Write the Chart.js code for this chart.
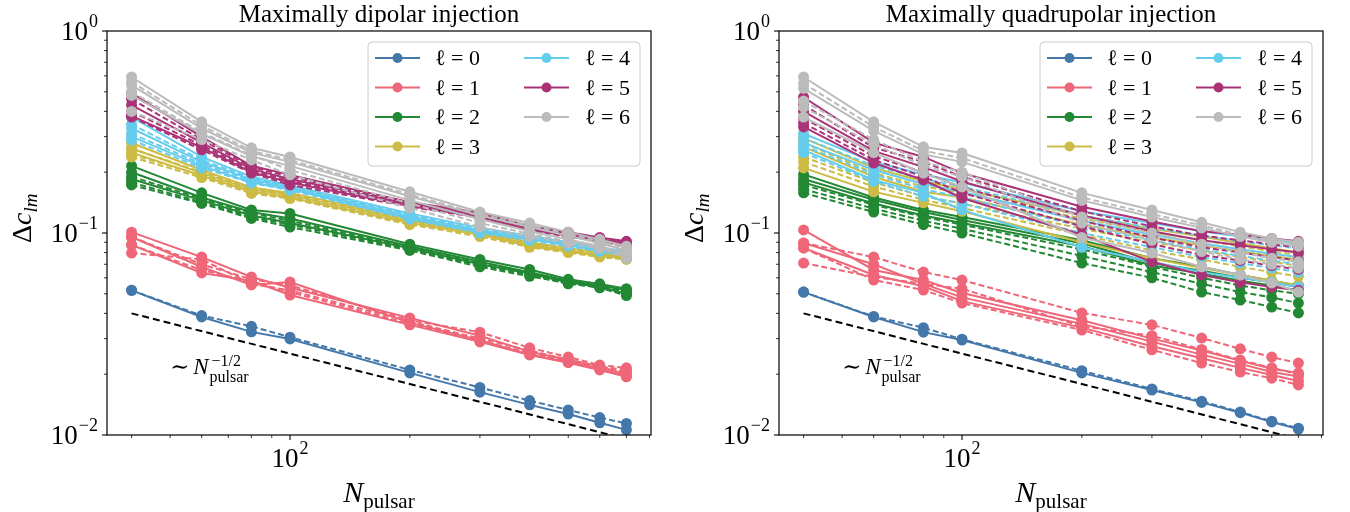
<!DOCTYPE html>
<html lang="en">
  <head>
    <meta charset="UTF-8" />
    <title>Delta c_lm vs N_pulsar</title>
    <script src="https://cdn.jsdelivr.net/npm/chart.js"></script>
    <style>
      body { margin: 0; background: #fff; }
      #wrap { position: relative; width: 1350px; height: 512px; }
      .panel { position: absolute; top: 0; width: 675px; height: 512px; }
    </style>
  </head>
  <body>
    <div id="wrap">
      <div class="panel" style="left: 0"><canvas id="dipolar" width="675" height="512"></canvas></div>
      <div class="panel" style="left: 675px"><canvas id="quadrupolar" width="675" height="512"></canvas></div>
    </div>

    <script>
      // x values shared by every curve
      const nPulsar = [40, 60, 80, 100, 200, 300, 400, 500, 600, 700];
      const ellColors = ["#4477AA", "#EE6677", "#228833", "#CCBB44", "#66CCEE", "#AA3377", "#BBBBBB"];
      const ellLabels = ["0", "1", "2", "3", "4", "5", "6"];

      // ~ N^-1/2 guide line (end points) and its label
      const guideN = [40, 700];
      const guideVals = [0.04, 0.00956];
      const guideLabelAt = [50, 0.02];

      // axis ticks
      const xTickVals = [40, 50, 60, 70, 80, 90, 100, 200, 300, 400, 500, 600, 700, 800];
      const xMajorTicks = [100];
      const xTickLabels = { 100: "2" };
      const yTickVals = [0.01, 0.02, 0.03, 0.04, 0.05, 0.06, 0.07, 0.08, 0.09,
        0.1, 0.2, 0.3, 0.4, 0.5, 0.6, 0.7, 0.8, 0.9, 1];
      const yMajorTicks = [0.01, 0.1, 1];
      const yTickLabels = { 0.01: "\u22122", 0.1: "\u22121", 1: "0" };

      // ---- maximally dipolar injection ----
      const dipSolid0 = [[0.052, 0.0384, 0.0324, 0.0299, 0.0203, 0.0163, 0.0141, 0.0127, 0.0115, 0.0106]];
      const dipDashed0 = [[0.052, 0.039, 0.0345, 0.0305, 0.021, 0.0172, 0.0148, 0.0133, 0.0122, 0.0114]];
      const dipSolid1 = [
        [0.101, 0.076, 0.0606, 0.0536, 0.038, 0.031, 0.0258, 0.0236, 0.0218, 0.02],
        [0.0955, 0.0679, 0.0553, 0.0572, 0.036, 0.0295, 0.025, 0.023, 0.0213, 0.0196],
        [0.0873, 0.0634, 0.058, 0.0493, 0.0351, 0.0289, 0.0249, 0.0228, 0.021, 0.0194],
      ];
      const dipDashed1 = [
        [0.0955, 0.07, 0.059, 0.055, 0.037, 0.0323, 0.027, 0.0243, 0.0222, 0.0215],
        [0.0796, 0.074, 0.056, 0.052, 0.0365, 0.03, 0.0262, 0.0236, 0.0218, 0.021],
        [0.0873, 0.0655, 0.0575, 0.051, 0.0355, 0.0292, 0.0255, 0.0232, 0.0214, 0.0205],
      ];
      const dipSolid2 = [
        [0.215, 0.158, 0.13, 0.125, 0.088, 0.074, 0.066, 0.059, 0.056, 0.053],
        [0.2, 0.15, 0.127, 0.118, 0.086, 0.072, 0.064, 0.058, 0.055, 0.052],
        [0.185, 0.145, 0.122, 0.112, 0.084, 0.07, 0.063, 0.057, 0.054, 0.05],
      ];
      const dipDashed2 = [
        [0.19, 0.148, 0.125, 0.115, 0.085, 0.071, 0.063, 0.057, 0.055, 0.051],
        [0.178, 0.142, 0.12, 0.11, 0.083, 0.069, 0.062, 0.056, 0.054, 0.05],
        [0.173, 0.14, 0.118, 0.107, 0.082, 0.068, 0.061, 0.0565, 0.0535, 0.049],
      ];
      const dipSolid3 = [
        [0.279, 0.205, 0.168, 0.158, 0.118, 0.103, 0.09, 0.084, 0.08, 0.077],
        [0.262, 0.198, 0.164, 0.154, 0.115, 0.1, 0.088, 0.082, 0.078, 0.076],
        [0.25, 0.192, 0.16, 0.15, 0.112, 0.098, 0.086, 0.081, 0.077, 0.075],
      ];
      const dipDashed3 = [
        [0.262, 0.2, 0.166, 0.156, 0.117, 0.101, 0.089, 0.083, 0.079, 0.076],
        [0.245, 0.193, 0.161, 0.151, 0.113, 0.098, 0.087, 0.081, 0.077, 0.075],
        [0.238, 0.188, 0.157, 0.148, 0.11, 0.096, 0.085, 0.08, 0.076, 0.074],
      ];
      const dipSolid4 = [
        [0.375, 0.238, 0.19, 0.172, 0.125, 0.106, 0.097, 0.09, 0.085, 0.081],
        [0.33, 0.225, 0.184, 0.168, 0.121, 0.103, 0.095, 0.088, 0.083, 0.079],
        [0.3, 0.215, 0.178, 0.165, 0.118, 0.101, 0.093, 0.087, 0.082, 0.078],
      ];
      const dipDashed4 = [
        [0.345, 0.23, 0.187, 0.17, 0.123, 0.104, 0.096, 0.089, 0.084, 0.08],
        [0.31, 0.22, 0.181, 0.166, 0.12, 0.102, 0.094, 0.087, 0.082, 0.078],
        [0.289, 0.21, 0.177, 0.163, 0.117, 0.1, 0.092, 0.086, 0.081, 0.077],
      ];
      const dipSolid5 = [
        [0.493, 0.299, 0.215, 0.194, 0.142, 0.126, 0.108, 0.101, 0.095, 0.091],
        [0.43, 0.28, 0.207, 0.185, 0.139, 0.123, 0.106, 0.099, 0.093, 0.089],
        [0.38, 0.265, 0.2, 0.178, 0.136, 0.12, 0.104, 0.097, 0.092, 0.087],
      ];
      const dipDashed5 = [
        [0.46, 0.29, 0.212, 0.19, 0.14, 0.124, 0.107, 0.1, 0.094, 0.09],
        [0.4, 0.272, 0.204, 0.181, 0.137, 0.121, 0.105, 0.098, 0.092, 0.088],
        [0.375, 0.258, 0.198, 0.173, 0.135, 0.119, 0.103, 0.096, 0.091, 0.086],
      ];
      const dipSolid6 = [
        [0.592, 0.355, 0.264, 0.238, 0.16, 0.127, 0.112, 0.101, 0.093, 0.086],
        [0.54, 0.33, 0.25, 0.225, 0.152, 0.122, 0.107, 0.097, 0.089, 0.082],
        [0.48, 0.31, 0.24, 0.215, 0.145, 0.117, 0.102, 0.093, 0.086, 0.079],
      ];
      const dipDashed6 = [
        [0.56, 0.34, 0.255, 0.23, 0.155, 0.124, 0.109, 0.099, 0.091, 0.084],
        [0.5, 0.315, 0.243, 0.205, 0.14, 0.112, 0.099, 0.091, 0.085, 0.077],
        [0.4, 0.29, 0.23, 0.194, 0.133, 0.107, 0.096, 0.089, 0.084, 0.075],
      ];

      // ---- maximally quadrupolar injection ----
      const quadSolid0 = [[0.051, 0.0384, 0.0323, 0.0295, 0.0203, 0.0167, 0.0145, 0.0129, 0.0116, 0.0107]];
      const quadDashed0 = [[0.051, 0.0386, 0.034, 0.0298, 0.0208, 0.0169, 0.0147, 0.013, 0.0117, 0.0108]];
      const quadSolid1 = [
        [0.1035, 0.0656, 0.0585, 0.0505, 0.037, 0.03, 0.0262, 0.0233, 0.0213, 0.0203],
        [0.0892, 0.07, 0.056, 0.048, 0.0355, 0.029, 0.025, 0.0225, 0.0205, 0.0195],
        [0.0843, 0.062, 0.0545, 0.046, 0.034, 0.0275, 0.024, 0.0215, 0.0198, 0.0185],
      ];
      const quadDashed1 = [
        [0.0892, 0.076, 0.0641, 0.0585, 0.0402, 0.0351, 0.0302, 0.0267, 0.0243, 0.0227],
        [0.071, 0.0606, 0.056, 0.053, 0.0345, 0.031, 0.0265, 0.0235, 0.0215, 0.02],
        [0.0843, 0.0585, 0.0522, 0.045, 0.0331, 0.0264, 0.0227, 0.0205, 0.0191, 0.0177],
      ];
      const quadSolid2 = [
        [0.195, 0.15, 0.13, 0.12, 0.092, 0.075, 0.068, 0.062, 0.058, 0.055],
        [0.185, 0.146, 0.127, 0.116, 0.089, 0.071, 0.065, 0.06, 0.057, 0.054],
        [0.178, 0.14, 0.122, 0.112, 0.086, 0.069, 0.063, 0.058, 0.055, 0.052],
      ];
      const quadDashed2 = [
        [0.173, 0.138, 0.12, 0.11, 0.083, 0.068, 0.06, 0.055, 0.052, 0.05],
        [0.165, 0.132, 0.115, 0.105, 0.077, 0.064, 0.056, 0.051, 0.048, 0.045],
        [0.158, 0.127, 0.11, 0.1, 0.071, 0.06, 0.051, 0.0466, 0.043, 0.0402],
      ];
      const quadSolid3 = [
        [0.295, 0.21, 0.18, 0.165, 0.122, 0.105, 0.096, 0.089, 0.084, 0.08],
        [0.267, 0.19, 0.16, 0.15, 0.11, 0.095, 0.087, 0.081, 0.077, 0.074],
        [0.21, 0.16, 0.141, 0.128, 0.09, 0.075, 0.067, 0.062, 0.058, 0.055],
      ];
      const quadDashed3 = [
        [0.28, 0.198, 0.17, 0.158, 0.118, 0.101, 0.092, 0.086, 0.081, 0.078],
        [0.238, 0.178, 0.152, 0.14, 0.105, 0.09, 0.082, 0.076, 0.072, 0.069],
        [0.225, 0.17, 0.146, 0.133, 0.098, 0.082, 0.074, 0.068, 0.064, 0.061],
      ];
      const quadSolid4 = [
        [0.31, 0.225, 0.195, 0.178, 0.128, 0.112, 0.102, 0.096, 0.092, 0.089],
        [0.258, 0.183, 0.158, 0.13, 0.085, 0.072, 0.064, 0.06, 0.057, 0.054],
        [0.28, 0.205, 0.175, 0.16, 0.115, 0.098, 0.089, 0.083, 0.079, 0.076],
      ];
      const quadDashed4 = [
        [0.295, 0.215, 0.185, 0.17, 0.122, 0.106, 0.097, 0.091, 0.087, 0.084],
        [0.27, 0.195, 0.165, 0.15, 0.108, 0.092, 0.083, 0.077, 0.073, 0.07],
        [0.25, 0.18, 0.152, 0.14, 0.1, 0.085, 0.076, 0.071, 0.067, 0.064],
      ];
      const quadSolid5 = [
        [0.47, 0.28, 0.238, 0.198, 0.135, 0.114, 0.102, 0.098, 0.094, 0.091],
        [0.335, 0.222, 0.183, 0.149, 0.098, 0.072, 0.062, 0.057, 0.054, 0.052],
        [0.4, 0.255, 0.212, 0.18, 0.122, 0.102, 0.092, 0.087, 0.083, 0.08],
      ];
      const quadDashed5 = [
        [0.43, 0.265, 0.225, 0.19, 0.128, 0.108, 0.097, 0.092, 0.088, 0.085],
        [0.37, 0.24, 0.2, 0.168, 0.115, 0.095, 0.085, 0.08, 0.076, 0.073],
        [0.35, 0.23, 0.19, 0.158, 0.108, 0.088, 0.078, 0.073, 0.069, 0.066],
      ];
      const quadSolid6 = [
        [0.592, 0.355, 0.267, 0.249, 0.158, 0.13, 0.113, 0.101, 0.094, 0.09],
        [0.52, 0.32, 0.245, 0.225, 0.145, 0.12, 0.106, 0.096, 0.09, 0.086],
        [0.375, 0.25, 0.198, 0.169, 0.095, 0.0796, 0.068, 0.0619, 0.0566, 0.051],
      ];
      const quadDashed6 = [
        [0.55, 0.335, 0.255, 0.235, 0.15, 0.124, 0.109, 0.098, 0.092, 0.088],
        [0.45, 0.29, 0.225, 0.2, 0.12, 0.1, 0.088, 0.08, 0.075, 0.072],
        [0.42, 0.275, 0.215, 0.19, 0.112, 0.092, 0.081, 0.074, 0.07, 0.067],
      ];

      const SERIF = '"Liberation Serif", "DejaVu Serif", serif';

      const buildDatasets = (solid, dashed) => {
        const sets = [];
        solid.forEach((lines, l) => {
          const color = ellColors[l];
          const n = Math.max(lines.length, dashed[l].length);
          for (let i = 0; i < n; i++) {
            [[lines[i], []], [dashed[l][i], [6, 3]]].forEach(([vals, dash]) => {
              if (!vals) return;
              sets.push({
                data: nPulsar.map((x, k) => ({ x, y: vals[k] })),
                borderColor: color,
                backgroundColor: color,
                pointBackgroundColor: color,
                borderWidth: 2,
                borderDash: dash,
                pointRadius: 5.5,
                pointBorderWidth: 0,
                pointHoverRadius: 5.5,
                order: 10 - l,
              });
            });
          }
        });
        sets.push({
          data: guideN.map((x, k) => ({ x, y: guideVals[k] })),
          borderColor: "#000",
          borderWidth: 2,
          borderDash: [7, 4],
          pointRadius: 0,
          order: 0,
        });
        return sets;
      };

      const powLabel = (ctx, exp, x, y, align) => {
        ctx.font = "27px " + SERIF;
        const wb = ctx.measureText("10").width;
        ctx.font = "18px " + SERIF;
        const we = ctx.measureText(exp).width;
        const total = wb + 1 + we;
        const x0 = align === "right" ? x - total : x - total / 2;
        ctx.textAlign = "left";
        ctx.textBaseline = "alphabetic";
        ctx.font = "27px " + SERIF;
        ctx.fillText("10", x0, y);
        ctx.font = "18px " + SERIF;
        ctx.fillText(exp, x0 + wb + 1, y - 13);
      };

      const decor = {
        id: "decor",
        afterDraw(chart, args, opts) {
          const ctx = chart.ctx;
          const a = chart.chartArea;
          const xs = chart.scales.x;
          const ys = chart.scales.y;
          ctx.save();
          ctx.fillStyle = "#000";
          ctx.strokeStyle = "#000";

          // frame
          ctx.lineWidth = 1.2;
          ctx.strokeRect(a.left, a.top, a.right - a.left, a.bottom - a.top);

          // ticks
          xTickVals.forEach((v) => {
            const px = xs.getPixelForValue(v);
            const major = xMajorTicks.includes(v);
            ctx.lineWidth = major ? 1.1 : 0.8;
            ctx.beginPath();
            ctx.moveTo(px, a.bottom);
            ctx.lineTo(px, a.bottom + (major ? 5 : 3));
            ctx.stroke();
            if (xTickLabels[v]) powLabel(ctx, xTickLabels[v], px, a.bottom + 32, "center");
          });
          yTickVals.forEach((v) => {
            const py = ys.getPixelForValue(v);
            const major = yMajorTicks.includes(v);
            ctx.lineWidth = major ? 1.1 : 0.8;
            ctx.beginPath();
            ctx.moveTo(a.left, py);
            ctx.lineTo(a.left - (major ? 5 : 3), py);
            ctx.stroke();
            if (yTickLabels[v]) powLabel(ctx, yTickLabels[v], a.left - 9, py + 9, "right");
          });

          // title
          const cx = (a.left + a.right) / 2;
          ctx.font = "25px " + SERIF;
          ctx.textAlign = "center";
          ctx.textBaseline = "alphabetic";
          ctx.fillText(opts.title, cx, 22);

          // x axis title: N_pulsar
          ctx.textAlign = "left";
          ctx.font = "italic 30px " + SERIF;
          const wN = ctx.measureText("N").width;
          ctx.font = "21px " + SERIF;
          const wSub = ctx.measureText("pulsar").width;
          const xStart = cx - (wN + wSub) / 2;
          ctx.font = "italic 30px " + SERIF;
          ctx.fillText("N", xStart, a.bottom + 67);
          ctx.font = "21px " + SERIF;
          ctx.fillText("pulsar", xStart + wN, a.bottom + 73);

          // y axis title: Delta c_lm
          ctx.save();
          ctx.translate(a.left - 76, a.top + 212);
          ctx.rotate(-Math.PI / 2);
          ctx.font = "28px " + SERIF;
          ctx.fillText("\u0394", 0, 0);
          let off = ctx.measureText("\u0394").width;
          ctx.font = "italic 28px " + SERIF;
          ctx.fillText("c", off, 0);
          off += ctx.measureText("c").width;
          ctx.font = "italic 19px " + SERIF;
          ctx.fillText("lm", off, 6);
          ctx.restore();

          // guide label: ~ N_pulsar^-1/2
          const gx = xs.getPixelForValue(guideLabelAt[0]);
          const gy = ys.getPixelForValue(guideLabelAt[1]);
          ctx.font = "23px " + SERIF;
          ctx.fillText("\u223C", gx, gy);
          ctx.font = "italic 23px " + SERIF;
          ctx.fillText("N", gx + 23, gy);
          const gn = gx + 23 + ctx.measureText("N").width + 1;
          ctx.font = "16px " + SERIF;
          ctx.fillText("\u22121/2", gn + 2, gy - 8);
          ctx.fillText("pulsar", gn, gy + 8);

          // legend
          const bw = 272, bh = 124;
          const bx = a.right - 11 - bw, by = a.top + 11;
          ctx.beginPath();
          ctx.roundRect(bx, by, bw, bh, 4);
          ctx.fillStyle = "rgba(255,255,255,0.85)";
          ctx.fill();
          ctx.strokeStyle = "#cccccc";
          ctx.lineWidth = 1;
          ctx.stroke();
          ellLabels.forEach((lab, l) => {
            const col = l < 4 ? 0 : 1;
            const row = l < 4 ? l : l - 4;
            const y = by + 16 + row * 29.5;
            const hx = bx + (col ? 156 : 7);
            ctx.strokeStyle = ellColors[l];
            ctx.fillStyle = ellColors[l];
            ctx.lineWidth = 2;
            ctx.beginPath();
            ctx.moveTo(hx, y);
            ctx.lineTo(hx + 45, y);
            ctx.stroke();
            ctx.beginPath();
            ctx.arc(hx + 22.5, y, 5, 0, Math.PI * 2);
            ctx.fill();
            ctx.fillStyle = "#000";
            ctx.font = "22px " + SERIF;
            ctx.textAlign = "left";
            ctx.fillText("\u2113 = " + lab, bx + (col ? 217 : 67), y + 7);
          });
          ctx.restore();
        },
      };

      const makeChart = (id, title, solid, dashed, yWidth, rightPad) => {
        new Chart(document.getElementById(id), {
          type: "line",
          data: { datasets: buildDatasets(solid, dashed) },
          options: {
            responsive: false,
            animation: false,
            events: [],
            layout: { padding: { left: 0, right: rightPad, top: 31, bottom: 0 } },
            scales: {
              x: {
                type: "logarithmic",
                min: 34.7,
                max: 807,
                grid: { display: false },
                border: { display: false },
                ticks: { display: false },
                afterFit: (s) => { s.height = 77; },
              },
              y: {
                type: "logarithmic",
                min: 0.01,
                max: 1,
                grid: { display: false },
                border: { display: false },
                ticks: { display: false },
                afterFit: (s) => { s.width = yWidth; },
              },
            },
            plugins: {
              legend: { display: false },
              tooltip: { enabled: false },
              decor: { title },
            },
          },
          plugins: [decor],
        });
      };

      makeChart("dipolar", "Maximally dipolar injection",
        [dipSolid0, dipSolid1, dipSolid2, dipSolid3, dipSolid4, dipSolid5, dipSolid6],
        [dipDashed0, dipDashed1, dipDashed2, dipDashed3, dipDashed4, dipDashed5, dipDashed6],
        107, 24);
      makeChart("quadrupolar", "Maximally quadrupolar injection",
        [quadSolid0, quadSolid1, quadSolid2, quadSolid3, quadSolid4, quadSolid5, quadSolid6],
        [quadDashed0, quadDashed1, quadDashed2, quadDashed3, quadDashed4, quadDashed5, quadDashed6],
        104, 27);
    </script>
  </body>
</html>
